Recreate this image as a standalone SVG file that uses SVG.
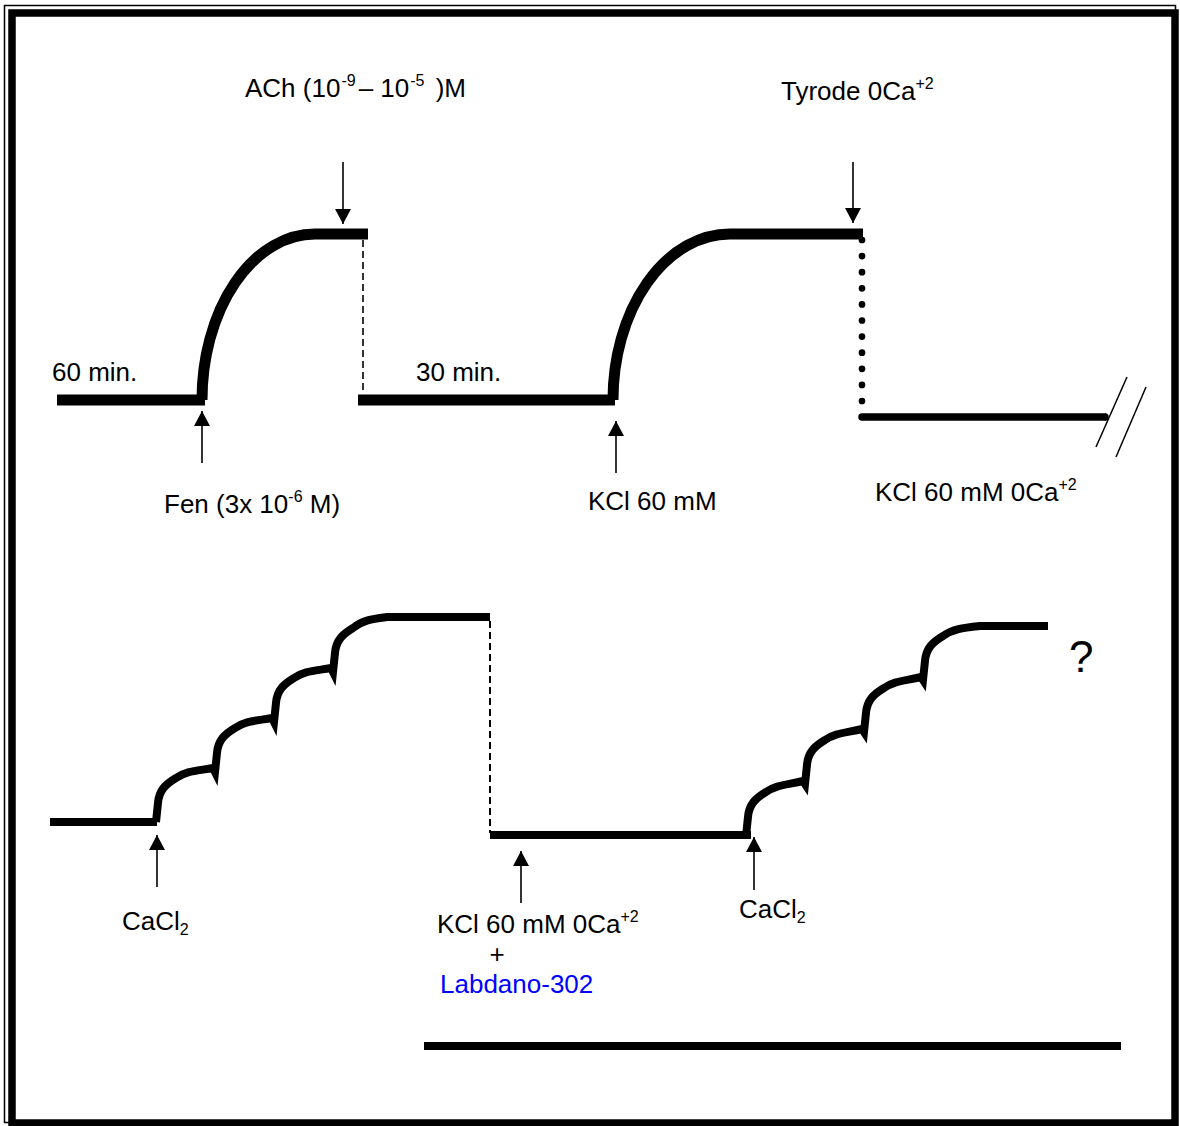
<svg xmlns="http://www.w3.org/2000/svg" width="1180" height="1126" viewBox="0 0 1180 1126">
<style>
text{font-family:"Liberation Sans",Arial,Helvetica,sans-serif;font-size:26px;fill:#000}
.sup{font-size:16px}
.trace{fill:none;stroke:#000;stroke-width:11}
.trace2{fill:none;stroke:#000;stroke-width:8}
.arrow{stroke:#000;stroke-width:1.6;fill:none;marker-end:url(#ah)}
.dash{stroke:#000;stroke-width:1.6;stroke-dasharray:7 4;fill:none}
</style>
<defs>
<marker id="ah" markerUnits="userSpaceOnUse" markerWidth="15" markerHeight="16" viewBox="0 0 15 16" refX="15" refY="8" orient="auto">
<path d="M0,0 L15,8 L0,16 z" fill="#000"/>
</marker>
</defs>
<rect width="1180" height="1126" fill="#fff"/>
<g id="frame">
<rect x="4.5" y="5.5" width="1171" height="1117" fill="none" stroke="#000" stroke-width="1.5"/>
<rect x="12" y="13" width="1163" height="1110" fill="none" stroke="#000" stroke-width="7.5"/>
</g>
<g id="connectors">
<line class="arrow" x1="343" y1="162" x2="343" y2="224"/>
<line class="arrow" x1="853" y1="162" x2="853" y2="223"/>
<line class="arrow" x1="202" y1="463" x2="202" y2="411"/>
<line class="arrow" x1="616" y1="473" x2="616" y2="421"/>
<line class="arrow" x1="157" y1="887" x2="157" y2="835"/>
<line class="arrow" x1="521" y1="903" x2="521" y2="851"/>
<line class="arrow" x1="754" y1="890" x2="754" y2="837"/>
</g>
<g id="trace-top">
<path class="trace" d="M57 400 H205"/>
<path class="trace" d="M202 400 A113 166 0 0 1 315 234 H368"/>
<path class="dash" d="M363 240 V393"/>
<path class="trace" d="M358 400 H615"/>
<path class="trace" d="M613 400 A117 166 0 0 1 730 234 H863"/>
<path d="M862 240 V417" fill="none" stroke="#000" stroke-width="6.7" stroke-linecap="round" stroke-dasharray="0 16.1"/>
<path d="M862 417 H1105" fill="none" stroke="#000" stroke-width="7.5" stroke-linecap="round"/>
<path d="M1105 417 H1106" fill="none" stroke="#000" stroke-width="7.5"/>
<line x1="1096" y1="447" x2="1127" y2="377" stroke="#000" stroke-width="1.5"/>
<line x1="1116" y1="457" x2="1146" y2="387" stroke="#000" stroke-width="1.5"/>
</g>
<g id="trace-bottom-left">
<path class="trace2" d="M50 822 H157"/>
<path class="trace2" d="M156 822 L158 803 C159 790,166 784,176 778 C186 771,196 771,213 768 L215 772
L217 753 C218 740,225 734,235 728 C245 721,255 721,272 718 L274 722
L276 703 C277 690,284 684,294 678 C304 671,314 671,331 668 L333 672
L335 653 C336 640,343 634,353 628 C363 620,372 619,387 617 L490 617"/>
<path class="dash" d="M490 621 V833" style="stroke-width:2"/>
</g>
<g id="trace-bottom-right">
<path class="trace2" d="M490 835 H751"/>
<path class="trace2" d="M746 836 L748 817 C749 804,756 798,766 792 C776 785,786 785,803 781 L805 784
L807 765 C808 752,815 746,825 740 C835 733,845 733,862 729 L864 732
L866 713 C867 700,874 694,884 688 C894 681,904 681,921 677 L923 680
L925 661 C926 648,933 642,943 636 C953 629,962 628,980 626 L1048 626"/>
</g>
<g id="labels">
<text x="245" y="97">ACh (10<tspan class="sup" dy="-11" dx="1">-9</tspan><tspan dy="11" dx="3">– 10</tspan><tspan class="sup" dy="-11" dx="1">-5</tspan><tspan dy="11" dx="4"> )M</tspan></text>
<text x="781" y="100">Tyrode 0Ca<tspan class="sup" dy="-11">+2</tspan></text>
<text x="52" y="381">60 min.</text>
<text x="416" y="381">30 min.</text>
<text x="164" y="513">Fen (3x 10<tspan class="sup" dy="-11">-6</tspan><tspan dy="11"> M)</tspan></text>
<text x="588" y="510">KCl 60 mM</text>
<text x="875" y="501">KCl 60 mM 0Ca<tspan class="sup" dy="-11">+2</tspan></text>
<text x="122" y="930">CaCl<tspan class="sup" dy="5">2</tspan></text>
<text x="437" y="933">KCl 60 mM 0Ca<tspan class="sup" dy="-11">+2</tspan></text>
<text x="497" y="963" text-anchor="middle">+</text>
<text x="440" y="993" style="fill:#0000ff">Labdano-302</text>
<text x="739" y="918">CaCl<tspan class="sup" dy="5">2</tspan></text>
<text x="1069" y="672" style="font-size:44px">?</text>
</g>
<g id="scale-bar">
<line x1="424" y1="1046" x2="1121" y2="1046" stroke="#000" stroke-width="8"/>
</g>
</svg>
